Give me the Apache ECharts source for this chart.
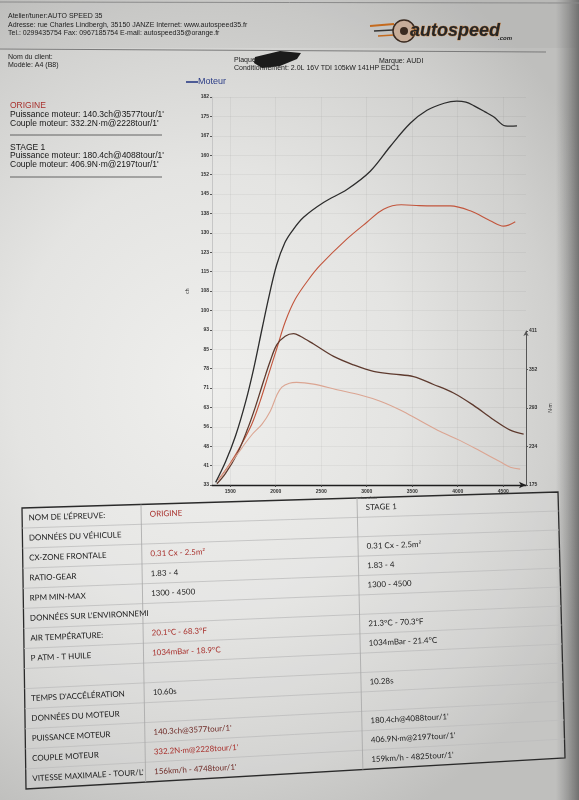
<!DOCTYPE html>
<html>
<head>
<meta charset="utf-8">
<script src="https://cdn.jsdelivr.net/npm/echarts@6/dist/echarts.min.js"></script>
<style>
html,body{margin:0;padding:0;width:579px;height:800px;overflow:hidden;}
body{background:radial-gradient(ellipse 75% 60% at 36% 48%, #efefed 0%, #e4e4e2 45%, #d0d0ce 80%, #bfbfbd 100%);}
#c{width:579px;height:800px;}
</style>
</head>
<body>
<div id="c"></div>
<script>
// ---------------- DATA ----------------
const xTickLabels = [1500, 2000, 2500, 3000, 3500, 4000, 4500];
const powerTickLabels = [33, 41, 48, 56, 63, 71, 78, 85, 93, 100, 108, 115, 123, 130, 138, 145, 152, 160, 167, 175, 182];
const torqueTickLabels = [175, 234, 293, 352, 411];

// STAGE 1 power (ch)
const stage1PowerRpm = [1340, 1450, 1560, 1670, 1760, 1850, 1930, 2010, 2100, 2180, 2306, 2525, 2783, 3039, 3258, 3478, 3662, 3850, 3990, 4090, 4180, 4300, 4394, 4522, 4580, 4651];
const stage1Power    = [34, 42, 52, 65, 78, 93, 106, 117.5, 126, 130.5, 135.8, 141.5, 146.5, 153.5, 163, 171.9, 176.9, 179.6, 180.4, 180, 178.6, 176.3, 174.4, 170.9, 170.8, 170.9];

// ORIGINE power (ch)
const originePowerRpm = [1371, 1500, 1629, 1738, 1830, 1921, 2013, 2104, 2214, 2361, 2489, 2783, 3002, 3185, 3380, 3577, 3734, 3918, 4138, 4357, 4504, 4632];
const originePower    = [35, 41.3, 48.9, 56.4, 65.3, 75.4, 85.5, 95.6, 104.3, 111.9, 117.4, 127.5, 133.9, 138.9, 140.6, 140.3, 140.2, 140.2, 138.3, 134.5, 132.4, 134.1];

// STAGE 1 torque (N·m)
const stage1TorqueRpm = [1354, 1445, 1574, 1683, 1775, 1866, 1940, 2013, 2104, 2197, 2270, 2416, 2636, 2856, 3075, 3295, 3514, 3734, 3954, 4174, 4394, 4577, 4724];
const stage1Torque    = [177, 192, 222, 258, 294, 334, 365, 390, 403, 406.9, 403, 391, 372, 359, 349, 345, 341, 329, 316, 297, 275, 259, 253];

// ORIGINE torque (N·m)
const origineTorqueRpm = [1371, 1500, 1629, 1738, 1848, 1940, 2013, 2068, 2150, 2228, 2416, 2673, 2929, 3149, 3368, 3588, 3808, 4028, 4247, 4467, 4577, 4687];
const origineTorque    = [182, 207, 232, 252, 268, 288, 313, 325, 331, 332.2, 329.6, 321, 313, 303.5, 290, 273.4, 257, 243, 227, 210.5, 202.3, 199.4];

// Summary & table texts
const summaryOrigine = ["ORIGINE", "Puissance moteur: 140.3ch@3577tour/1'", "Couple moteur: 332.2N·m@2228tour/1'"];
const summaryStage1  = ["STAGE 1", "Puissance moteur: 180.4ch@4088tour/1'", "Couple moteur: 406.9N·m@2197tour/1'"];
const headerLines = [
  "Atelier/tuner:AUTO SPEED 35",
  "Adresse: rue Charles Lindbergh, 35150 JANZE Internet: www.autospeed35.fr",
  "Tel.: 0299435754 Fax: 0967185754 E-mail: autospeed35@orange.fr"
];
const tableLabels = ["NOM DE L'ÉPREUVE:", "DONNÉES DU VÉHICULE", "CX-ZONE FRONTALE", "RATIO-GEAR", "RPM MIN-MAX",
  "DONNÉES SUR L'ENVIRONNEMI", "AIR TEMPÉRATURE:", "P ATM - T HUILE", "", "TEMPS D'ACCÉLÉRATION",
  "DONNÉES DU MOTEUR", "PUISSANCE MOTEUR", "COUPLE MOTEUR", "VITESSE MAXIMALE - TOUR/L'"];
const tableOrigine = ["ORIGINE", "", "0.31 Cx - 2.5m²", "1.83 - 4", "1300 - 4500", "", "20.1°C - 68.3°F",
  "1034mBar - 18.9°C", "", "10.60s", "", "140.3ch@3577tour/1'", "332.2N·m@2228tour/1'", "156km/h - 4748tour/1'"];
const tableStage1 = ["STAGE 1", "", "0.31 Cx - 2.5m²", "1.83 - 4", "1300 - 4500", "", "21.3°C - 70.3°F",
  "1034mBar - 21.4°C", "", "10.28s", "", "180.4ch@4088tour/1'", "406.9N·m@2197tour/1'", "159km/h - 4825tour/1'"];

// ---------------- CHART ----------------
const X_MIN = 1300, X_MAX = 4750;
const P_MIN = 33, P_MAX = 182;
const T_MIN = 175, T_MAX = 411;
const pStep = (P_MAX - P_MIN) / (powerTickLabels.length - 1);
const powerTickPos = powerTickLabels.map((_, i) => P_MIN + i * pStep);
const pairs = (xs, ys) => xs.map((x, i) => [x, ys[i]]);

const SANS = "'Liberation Sans', Arial, sans-serif";
const TFONT = "Lato, 'Liberation Sans', sans-serif";
const RED = '#a8302c', MAROON = '#6e2a26';

const graphics = [];
function txt(x, y, s, font, fill, extra) {
  return Object.assign({ type: 'text', x: x, y: y, silent: true,
    style: { text: s, font: font, fill: fill || '#1a1a1a', textVerticalAlign: 'middle' } }, extra || {});
}
function ln(x1, y1, x2, y2, stroke, w) {
  return { type: 'line', silent: true, shape: { x1, y1, x2, y2 }, style: { stroke: stroke, lineWidth: w || 1 } };
}

// page edge shading
graphics.push({ type: 'rect', silent: true, shape: { x: 556, y: 0, width: 23, height: 800 },
  style: { fill: new echarts.graphic.LinearGradient(0, 0, 1, 0, [{ offset: 0, color: 'rgba(90,90,90,0)' }, { offset: 1, color: 'rgba(60,60,60,0.6)' }]) } });
graphics.push({ type: 'rect', silent: true, shape: { x: 0, y: 0, width: 579, height: 48 },
  style: { fill: 'rgba(120,120,120,0.08)' } });

// header
graphics.push(ln(0, 2, 579, 3, '#8a8a8a', 1));
headerLines.forEach((s, i) => graphics.push(txt(8, 16 + i * 8.6, s, '7px ' + SANS, '#1c1c1c')));
graphics.push(ln(0, 49, 546, 52, '#7a7a7a', 1));
graphics.push(txt(8, 57, 'Nom du client:', '7px ' + SANS));
graphics.push(txt(8, 65.5, 'Modèle: A4 (B8)', '7px ' + SANS));
graphics.push(txt(234, 60, 'Plaque:', '7px ' + SANS));
graphics.push(txt(234, 68.5, 'Conditionnement: 2.0L 16V TDI 105kW 141HP EDC1', '7px ' + SANS));
graphics.push(txt(379, 61.5, 'Marque: AUDI', '7px ' + SANS));
graphics.push({ type: 'polygon', silent: true, shape: { points: [[255, 57], [280, 51], [301, 53], [297, 59], [280, 66], [262, 68], [254, 63]] },
  style: { fill: '#1b1b1b' } });

// logo
graphics.push(ln(370, 26, 394, 24, '#c46a1e', 2));
graphics.push(ln(374, 31, 393, 30, '#333', 1.5));
graphics.push(ln(378, 36, 394, 35, '#c46a1e', 1.5));
graphics.push({ type: 'circle', silent: true, shape: { cx: 404, cy: 31, r: 11 },
  style: { fill: 'rgba(205,120,60,0.3)', stroke: '#3a2a20', lineWidth: 1.5 } });
graphics.push({ type: 'circle', silent: true, shape: { cx: 404, cy: 31, r: 4 }, style: { fill: '#3a2a20' } });
graphics.push({ type: 'text', x: 410, y: 31, silent: true,
  style: { text: 'autospeed', font: 'italic bold 18px ' + SANS, fill: '#262626', stroke: '#c87428', lineWidth: 0.7, textVerticalAlign: 'middle' } });
graphics.push(txt(498, 38, '.com', 'italic bold 6px ' + SANS, '#222'));

// legend "Moteur"
graphics.push(ln(186, 82, 198, 82, '#2b3c86', 1.6));
graphics.push(txt(198, 82, 'Moteur', '9px ' + SANS, '#2b3c86'));

// summary (left)
summaryOrigine.forEach((s, i) => graphics.push(txt(10, 106 + i * 8.6, s, '8.5px ' + SANS, i === 0 ? RED : '#161616')));
graphics.push(ln(10, 135, 162, 135, '#555', 0.9));
summaryStage1.forEach((s, i) => graphics.push(txt(10, 147.5 + i * 8.6, s, '8.5px ' + SANS, '#161616')));
graphics.push(ln(10, 177, 162, 177, '#555', 0.9));

// table (corners follow the photographed page)
const TC = { tl: [22, 508], tr: [558, 492], bl: [26, 789], br: [565, 758] };
function P(u, v) {
  const tx = TC.tl[0] + (TC.tr[0] - TC.tl[0]) * u, ty = TC.tl[1] + (TC.tr[1] - TC.tl[1]) * u;
  const bx = TC.bl[0] + (TC.br[0] - TC.bl[0]) * u, by = TC.bl[1] + (TC.br[1] - TC.bl[1]) * u;
  return [tx + (bx - tx) * v, ty + (by - ty) * v];
}
const nR = tableLabels.length;
const U1 = 0.222, U2 = 0.625, UL = 0.012, UO = 0.238, US = 0.641;
graphics.push({ type: 'polygon', silent: true, shape: { points: [P(0, 0), P(1, 0), P(1, 1), P(0, 1)] },
  style: { fill: 'rgba(255,255,255,0.1)', stroke: '#2a2a2a', lineWidth: 1.3 } });
for (let i = 1; i < nR; i++) {
  const a = P(0, i / nR), b = P(1, i / nR);
  graphics.push(ln(a[0], a[1], b[0], b[1], '#bcbcbc', 0.8));
}
[U1, U2].forEach(u => { const a = P(u, 0), b = P(u, 1); graphics.push(ln(a[0], a[1], b[0], b[1], '#a6a6a6', 0.8)); });
const redRows = [0, 2, 6, 7, 12];
const maroonRows = [11, 13];
function cellText(u, i, s, fill) {
  const v = (i + 0.5) / nR;
  const p = P(u, v), a = P(0, v), b = P(1, v);
  const rot = -Math.atan2(b[1] - a[1], b[0] - a[0]);
  return { type: 'text', x: p[0], y: p[1], rotation: rot, silent: true,
    style: { text: s, font: '8px ' + TFONT, fill: fill, textVerticalAlign: 'middle' } };
}
tableLabels.forEach((s, i) => {
  if (s) graphics.push(cellText(UL, i, s, '#181818'));
  if (tableOrigine[i]) graphics.push(cellText(UO, i, tableOrigine[i],
    redRows.includes(i) ? RED : (maroonRows.includes(i) ? MAROON : '#222')));
  if (tableStage1[i]) graphics.push(cellText(US, i, tableStage1[i], '#1c1c1c'));
});

const tickFont = { fontSize: 5, fontWeight: 'bold', color: '#333', fontFamily: SANS };
const lineSeries = (name, xs, ys, idx, color, w) => ({
  type: 'line', name: name, xAxisIndex: idx, yAxisIndex: idx, data: pairs(xs, ys),
  smooth: 0.35, showSymbol: false, symbol: 'none', clip: false,
  lineStyle: { color: color, width: w || 1.2 }
});

const option = {
  animation: false,
  backgroundColor: 'transparent',
  grid: [
    { left: 212, right: 53, top: 97, bottom: 315 },
    { left: 212, right: 53, top: 331, bottom: 315 }
  ],
  xAxis: [
    { gridIndex: 0, type: 'value', min: X_MIN, max: X_MAX,
      axisLine: { show: true, lineStyle: { color: '#1f1f1f', width: 1.3 }, symbol: ['none', 'arrow'], symbolSize: [5, 7] },
      axisTick: { show: true, customValues: xTickLabels, length: 2, lineStyle: { color: '#444' } },
      axisLabel: Object.assign({ customValues: xTickLabels, margin: 4, formatter: v => String(v) }, tickFont),
      splitLine: { show: true, lineStyle: { color: 'rgba(0,0,0,0.045)', width: 1 } },
      name: 'tours/min', nameLocation: 'middle', nameGap: 11, nameTextStyle: { fontSize: 4, color: '#444', fontFamily: SANS } },
    { gridIndex: 1, type: 'value', min: X_MIN, max: X_MAX, show: false }
  ],
  yAxis: [
    { gridIndex: 0, type: 'value', min: P_MIN, max: P_MAX, position: 'left',
      axisLine: { show: true, lineStyle: { color: '#c6c6c6', width: 1 } },
      axisTick: { show: true, customValues: powerTickPos, length: 2, lineStyle: { color: '#555' } },
      axisLabel: Object.assign({ customValues: powerTickPos, margin: 3,
        formatter: v => String(powerTickLabels[Math.round((v - P_MIN) / pStep)]) }, tickFont),
      splitLine: { show: true, lineStyle: { color: 'rgba(0,0,0,0.045)', width: 1 } },
      name: 'ch', nameLocation: 'middle', nameGap: 16, nameRotate: 90, nameTextStyle: { fontSize: 5, color: '#333', fontFamily: SANS } },
    { gridIndex: 1, type: 'value', min: T_MIN, max: T_MAX, position: 'right',
      axisLine: { show: true, lineStyle: { color: '#555', width: 1 }, symbol: ['none', 'arrow'], symbolSize: [4, 5] },
      axisTick: { show: true, customValues: torqueTickLabels, length: 2, lineStyle: { color: '#555' } },
      axisLabel: Object.assign({ customValues: torqueTickLabels, margin: 3, formatter: v => String(v) }, tickFont),
      splitLine: { show: false },
      name: 'N·m', nameLocation: 'middle', nameGap: 16, nameRotate: 90, nameTextStyle: { fontSize: 5, color: '#333', fontFamily: SANS } }
  ],
  series: [
    lineSeries('STAGE 1 - Puissance', stage1PowerRpm, stage1Power, 0, '#2c2c2c', 1.3),
    lineSeries('ORIGINE - Puissance', originePowerRpm, originePower, 0, '#c2553c', 1.1),
    lineSeries('STAGE 1 - Couple', stage1TorqueRpm, stage1Torque, 1, '#5e3a2e', 1.3),
    lineSeries('ORIGINE - Couple', origineTorqueRpm, origineTorque, 1, '#dba592', 1.1)
  ],
  graphic: graphics
};

const chart = echarts.init(document.getElementById('c'), null, { renderer: 'canvas', width: 579, height: 800 });
chart.setOption(option);
</script>
</body>
</html>
